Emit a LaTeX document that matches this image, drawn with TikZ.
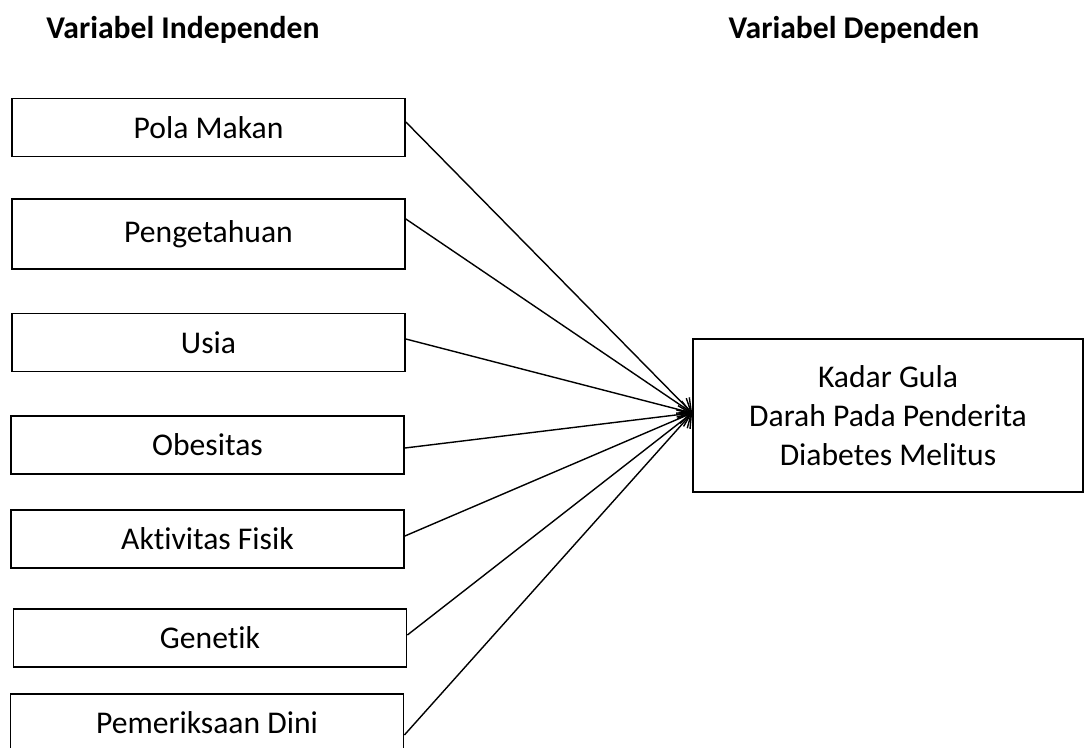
\documentclass[tikz,border=0pt]{standalone}
\usepackage{fontspec}
\setmainfont{Carlito}[Ligatures=NoCommon]
\usepackage{tikz}
\usetikzlibrary{arrows.meta}
\tikzset{varbox/.style={draw=black, line width=1pt, minimum width=7.86cm, minimum height=1.16cm, inner sep=0pt, font=\fontsize{18}{22}\selectfont},
         judul/.style={inner sep=0pt, font=\fontsize{18}{22}\selectfont\bfseries},
         panah/.style={line width=0.8pt, -{Straight Barb[length=2.4mm, width=3.6mm]}}}

\begin{document}
\begin{tikzpicture}[scale=1]
                      \useasboundingbox (0,0) rectangle (21.7,-14.94);
                      \node[judul] (indep) at (3.66,-0.6) {Variabel Independen};
                      \node[judul] (dep) at (17.08,-0.6) {Variabel Dependen};
                      
                      \node[varbox] (pola) at (4.17,-2.55) {Pola Makan};
                      \node[varbox, minimum height=1.4cm] (tahu) at (4.17,-4.68) {Pengetahuan};
                      \node[varbox] (usia) at (4.17,-6.85) {Usia};
                      \node[varbox] (obes) at (4.15,-8.9) {Obesitas};
                      \node[varbox] (aktif) at (4.15,-10.78) {Aktivitas Fisik};
                      \node[varbox] (gen) at (4.2,-12.76) {Genetik};
                      \node[varbox] (periksa) at (4.14,-14.46) {Pemeriksaan Dini};
                      
                      \node[varbox, minimum width=7.8cm, minimum height=3.06cm, align=center] (kadar) at (17.76,-8.31) {Kadar Gula\\Darah Pada Penderita\\Diabetes Melitus};
                      \coordinate (tuju) at ([yshift=0.05cm]kadar.west);
                      
                      \draw[panah] ([yshift=0.11cm]pola.east) -- (tuju);
                      \draw[panah] ([yshift=0.3cm]tahu.east) -- (tuju);
                      \draw[panah] ([yshift=0.07cm]usia.east) -- (tuju);
                      \draw[panah] ([yshift=-0.06cm]obes.east) -- (tuju);
                      \draw[panah] ([yshift=0.06cm]aktif.east) -- (tuju);
                      \draw[panah] ([yshift=0.06cm]gen.east) -- (tuju);
                      \draw[panah] ([yshift=-0.24cm]periksa.east) -- (tuju);
             \end{tikzpicture}
\end{document}
